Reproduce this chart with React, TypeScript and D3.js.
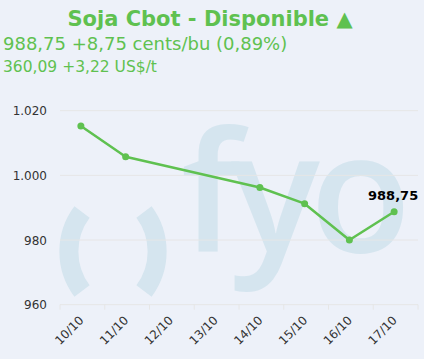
import React from "react";
import * as d3 from "d3";

const categories = ["10/10", "11/10", "12/10", "13/10", "14/10", "15/10", "16/10", "17/10"];
const values: (number | null)[] = [1015.25, 1005.75, null, null, 996.25, 991.25, 980, 988.75];
const yTicks = [960, 980, 1000, 1020];
const titleText = "Soja Cbot - Disponible ▲";
const subtitle1 = "988,75 +8,75 cents/bu (0,89%)";
const subtitle2 = "360,09 +3,22 US$/t";
const lastLabel = "988,75";

const W = 424;
const H = 359;
const font = "'DejaVu Sans', Verdana, sans-serif";
const green = "#5fc150";
const bg = "#edf1f9";
const wm = "#d5e5ef";

function fmtY(v: number) {
  return d3.format(",")(v).replace(/,/g, ".");
}

export default function App() {
  const x = d3.scaleBand<string>().domain(categories).range([60, 418]);
  const y = d3.scaleLinear().domain([960, 1020]).range([304.7, 110.7]);
  const pts = categories
    .map((c, i) => ({ c, v: values[i] }))
    .filter((d) => d.v != null) as { c: string; v: number }[];
  const px = (c: string) => (x(c) as number) + x.bandwidth() / 2 - 1.5;
  const line = d3
    .line<{ c: string; v: number }>()
    .x((d) => px(d.c))
    .y((d) => y(d.v));
  const last = pts[pts.length - 1];
  const lx = px(last.c);
  const ly = y(last.v);
  const boundaries = [...categories.map((c) => x(c) as number), 418];

  return (
    <svg
      width={W}
      height={H}
      style={{ position: "absolute", left: 0, top: 0, display: "block" }}
      fontFamily={font}
    >
      <rect x={0} y={0} width={W} height={H} fill={bg} />
      {/* watermark */}
      <g fill="none" stroke={wm} strokeWidth={19}>
        <path d="M 82 212 A 66 66 0 0 0 82 291" />
        <path d="M 144 212 A 66 66 0 0 1 144 291" />
      </g>
      <text
        x={181}
        y={252}
        fontFamily="'Open Sans', sans-serif"
        fontWeight={600}
        fontSize={166}
        fill={wm}
        letterSpacing={-10}
      >
        fyo
      </text>
      {/* grid */}
      {yTicks.map((t) => (
        <line key={t} x1={60} x2={418} y1={y(t)} y2={y(t)} stroke="#e6e6e6" strokeWidth={1} />
      ))}
      {yTicks.map((t) => (
        <text key={"l" + t} x={47} y={y(t) + 4.5} textAnchor="end" fontSize={12} fill="#333">
          {fmtY(t)}
        </text>
      ))}
      {/* x axis ticks */}
      {boundaries.map((b, i) => (
        <line key={"t" + i} x1={b} x2={b} y1={y(960)} y2={y(960) + 5} stroke="#e6e6e6" />
      ))}
      {categories.map((c) => {
        const cx = (x(c) as number) + x.bandwidth() / 2 + 2;
        const cy = 321;
        return (
          <text
            key={c}
            x={cx}
            y={cy}
            textAnchor="end"
            fontSize={12}
            fill="#333"
            transform={`rotate(-45 ${cx} ${cy})`}
          >
            {c}
          </text>
        );
      })}
      {/* line */}
      <path d={line(pts) || ""} fill="none" stroke={green} strokeWidth={2.5} strokeLinejoin="round" />
      {pts.map((d) => (
        <circle key={d.c} cx={px(d.c)} cy={y(d.v)} r={3.5} fill={green} />
      ))}
      <text x={lx - 1} y={ly - 12} textAnchor="middle" fontSize={13} fontWeight="bold" fill="#000">
        {lastLabel}
      </text>
      {/* titles */}
      <text x={210} y={26} textAnchor="middle" fontSize={21} fontWeight="bold" fill={green}>
        {titleText}
      </text>
      <text x={3} y={50} fontSize={18} fill={green}>
        {subtitle1}
      </text>
      <text x={3} y={72} fontSize={15.5} fill={green}>
        {subtitle2}
      </text>
    </svg>
  );
}
